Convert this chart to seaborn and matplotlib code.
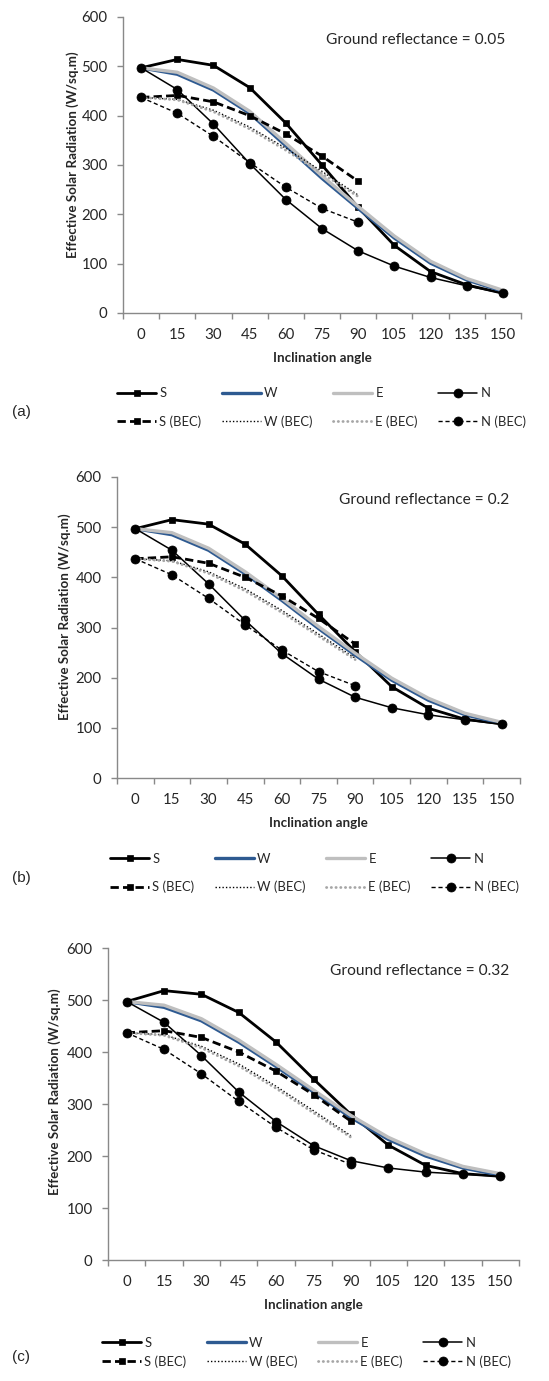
import numpy as np
import matplotlib
matplotlib.use("Agg")
import matplotlib.pyplot as plt
import seaborn as sns

# inclination angles (x categories)
angles = [0, 15, 30, 45, 60, 75, 90, 105, 120, 135, 150]

# (a) ground reflectance 0.05
S_a = [497, 514, 502, 457, 385, 300, 214, 137, 84, 57, 40]
W_a = [497, 484, 452, 405, 339, 273, 212, 152, 101, 67, 44]
E_a = [497, 488, 456, 409, 344, 278, 216, 156, 105, 70, 46]
N_a = [497, 453, 383, 303, 230, 171, 126, 95, 72, 55, 40]

# (b) ground reflectance 0.2
S_b = [497, 515, 506, 466, 403, 326, 252, 182, 139, 117, 108]
W_b = [497, 485, 454, 407, 354, 298, 245, 195, 155, 126, 109]
E_b = [497, 489, 458, 411, 358, 302, 249, 199, 159, 129, 111]
N_b = [497, 454, 387, 314, 248, 197, 161, 140, 126, 116, 107]

# (c) ground reflectance 0.32
S_c = [497, 518, 511, 476, 419, 348, 280, 221, 182, 166, 161]
W_c = [497, 486, 460, 419, 372, 323, 274, 232, 200, 177, 163]
E_c = [497, 490, 464, 423, 376, 327, 278, 236, 204, 180, 166]
N_c = [497, 457, 393, 323, 266, 220, 191, 177, 169, 165, 161]

# BEC reference values (0-90 only, same in all panels)
S_bec = [437, 441, 428, 400, 363, 318, 267]
W_bec = [437, 433, 411, 377, 334, 287, 239]
E_bec = [437, 432, 408, 373, 330, 283, 236]
N_bec = [437, 405, 358, 305, 255, 212, 184]

series_names = ["S", "W", "E", "N", "S (BEC)", "W (BEC)", "E (BEC)", "N (BEC)"]
panels = [
    ("(a)", "Ground reflectance = 0.05", [S_a, W_a, E_a, N_a]),
    ("(b)", "Ground reflectance = 0.2", [S_b, W_b, E_b, N_b]),
    ("(c)", "Ground reflectance = 0.32", [S_c, W_c, E_c, N_c]),
]

styles = {
    "S": dict(color="black", lw=2.0, marker="s", ms=5),
    "W": dict(color="#2E5A91", lw=2.4),
    "E": dict(color="#BFBFBF", lw=2.4),
    "N": dict(color="black", lw=1.1, marker="o", ms=6.5),
    "S (BEC)": dict(color="black", lw=2.0, ls=(0, (3, 1.5)), marker="s", ms=5),
    "W (BEC)": dict(color="black", lw=1.0, ls=(0, (1, 1.5))),
    "E (BEC)": dict(color="#A6A6A6", lw=2.0, ls=(0, (0.1, 1.6)), dash_capstyle="round"),
    "N (BEC)": dict(color="black", lw=1.0, ls=(0, (3, 2)), marker="o", ms=6.5),
}

sns.set_style("ticks")
plt.rcParams["font.family"] = ["Lato", "DejaVu Sans"]

W_PX, H_PX = 549, 1381
fig = plt.figure(figsize=(W_PX / 100, H_PX / 100), dpi=100)

# axes boxes in pixels: left, right, top, bottom
boxes = [(123, 521, 17, 313), (117, 520, 477, 778), (108, 519, 948, 1260)]
ylab_pos = [(-0.126, 0.534), (-0.129, 0.535), (-0.129, 0.54)]
xlab_y = [-0.152, -0.15, -0.144]
note_pos = [(0.96, 0.922), (0.973, 0.924), (0.976, 0.926)]
legend_pos = [(117, 407.5, 1.2), (110, 873, 1.2), (102, 1352.5, 0.5)]
letter_y = [412, 878, 1357]
grey = "#898989"
txt = "#262626"

for i, (letter, note, vals) in enumerate(panels):
    l, r, t, b = boxes[i]
    ax = fig.add_axes([l / W_PX, 1 - b / H_PX, (r - l) / W_PX, (b - t) / H_PX])
    all_vals = vals + [S_bec, W_bec, E_bec, N_bec]
    for name, v in zip(series_names, all_vals):
        st = dict(styles[name])
        st.setdefault("dash_capstyle", "butt")
        c = st["color"]
        sns.lineplot(x=angles[:len(v)], y=v, ax=ax, label=name,
                     markeredgecolor=c, markerfacecolor=c, markeredgewidth=0.5, **st)
    ax.set_xlim(-7.5, 157.5)
    ax.set_ylim(0, 600)
    ax.set_xticks(angles)
    ax.set_xticks(np.arange(-7.5, 160, 15), minor=True)
    ax.set_yticks(np.arange(0, 601, 100))
    ax.tick_params(axis="x", which="major", length=0, pad=11, labelsize=10.8, labelcolor=txt)
    ax.tick_params(axis="x", which="minor", length=4, width=1, color=grey)
    ax.tick_params(axis="y", length=4, width=1, color=grey, pad=7, labelsize=10.8, labelcolor=txt)
    for side in ["top", "right"]:
        ax.spines[side].set_visible(False)
    for side in ["left", "bottom"]:
        ax.spines[side].set_color(grey)
        ax.spines[side].set_linewidth(1)
    ax.set_xlabel("Inclination angle", fontsize=9.6, fontweight="bold")
    ax.set_ylabel("Effective Solar Radiation (W/sq.m)", fontsize=9.6, fontweight="bold")
    ax.xaxis.set_label_coords(0.5, xlab_y[i])
    ax.yaxis.set_label_coords(*ylab_pos[i])
    ax.xaxis.label.set_va("center")
    ax.yaxis.label.set_va("center")
    ax.text(note_pos[i][0], note_pos[i][1], note, transform=ax.transAxes,
            ha="right", va="center", fontsize=11.2, color=txt)

    handles, labels = ax.get_legend_handles_labels()
    ax.get_legend().remove()
    order = [0, 4, 1, 5, 2, 6, 3, 7]
    lx, ly, lsp = legend_pos[i]
    fig.legend([handles[k] for k in order], [labels[k] for k in order], ncol=4,
               loc="center left", bbox_to_anchor=(lx / W_PX, 1 - ly / H_PX),
               frameon=False, borderpad=0, borderaxespad=0, handlelength=3.0,
               handletextpad=0.25, columnspacing=1.55, labelspacing=lsp, fontsize=9.4)
    fig.text(12 / W_PX, 1 - letter_y[i] / H_PX, letter, family="Liberation Sans",
             fontsize=11, va="center", ha="left", color=txt)

fig.savefig("out.png", dpi=100)
